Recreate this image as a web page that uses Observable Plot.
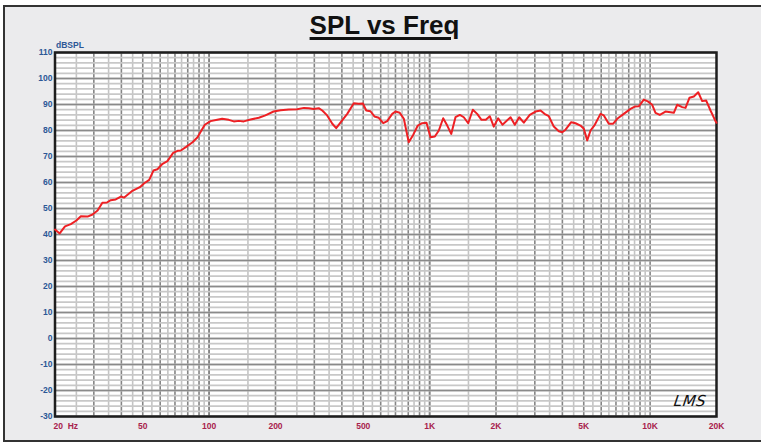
<!DOCTYPE html>
<html>
<head>
<meta charset="utf-8">
<script src="https://cdn.jsdelivr.net/npm/d3@7"></script>
<script src="https://cdn.jsdelivr.net/npm/@observablehq/plot@0.6"></script>
<style>
  html, body { margin: 0; padding: 0; background: #ffffff; overflow: hidden; }
  #wrap { position: relative; width: 761px; height: 443px; font-family: "Liberation Sans", Arial, sans-serif; }
  #frame { position: absolute; left: 3px; top: 5px; width: 770px; height: 433px; border: 2px solid #333; background: #ebebed; }
  #title { position: absolute; left: 0; width: 769px; top: 10px; text-align: center; font-size: 26px; font-weight: bold; color: #111;
           text-decoration: underline; text-decoration-thickness: 3px; text-underline-offset: 3px; line-height: 30px; }
  #chart { position: absolute; left: 0; top: 0; }
  #logo { position: absolute; left: 674px; top: 392px; font-family: "DejaVu Sans", sans-serif; font-style: italic; font-weight: 300;
          font-size: 15px; letter-spacing: 0.5px; color: #111; transform: skewX(-8deg); }
</style>
</head>
<body>
<div id="wrap">
  <div id="frame"></div>
  <div id="title">SPL vs Freq</div>
  <div id="chart"></div>
  <div id="logo">LMS</div>
</div>
<script>
// ---- data ----
const freqHz = [20, 21, 22.2, 23.6, 25, 26.2, 28.1, 29.6, 31.2, 32.8, 34.4, 35.8, 37.7, 39.8, 41.2, 44.9, 48.5, 50.8, 53.5, 55.9,
  58.3, 61.5, 64.7, 68.7, 71.9, 74.4, 78.4, 84.1, 88.6, 91.7, 95.6, 101.5, 108.8, 114.6, 122.8, 129.4, 136.3, 143.6, 154, 168,
  180, 196, 211, 230, 251, 269, 283, 298, 314, 326, 343, 362, 377, 394, 423, 453, 477, 498, 516, 539,
  562, 588, 616, 642, 677, 700, 732, 764, 804, 842, 884, 925, 968, 1009, 1056, 1101, 1152, 1202, 1253, 1310,
  1371, 1429, 1496, 1570, 1643, 1719, 1798, 1874, 1954, 2046, 2140, 2328, 2434, 2548, 2674, 2846, 3022, 3184, 3319, 3471,
  3658, 3854, 3994, 4134, 4386, 4588, 4834, 5004, 5185, 5366, 5612, 5956, 6166, 6496, 6802, 7092, 7596, 8148, 8522, 8886,
  9362, 9762, 10218, 10576, 11062, 11740, 12370, 12804, 13268, 13980, 14472, 15090, 15784, 16522, 17226, 17962, 18788, 19794, 20000];
const splDb = [41.9, 40.4, 43.1, 44.0, 45.4, 47.0, 46.9, 47.7, 49.2, 52.2, 52.3, 53.2, 53.5, 54.6, 54.2, 56.8, 58.2, 59.7, 61.0, 64.6,
  65.1, 67.2, 68.2, 71.4, 72.2, 72.3, 73.6, 75.5, 77.4, 79.6, 82.2, 83.6, 84.1, 84.5, 84.1, 83.5, 83.7, 83.5, 84.2, 84.9,
  85.8, 87.3, 87.8, 88.1, 88.2, 88.7, 88.6, 88.3, 88.6, 87.7, 85.8, 82.6, 80.9, 83.0, 86.4, 90.5, 90.3, 90.4, 87.7, 87.4,
  85.4, 84.9, 82.8, 83.6, 86.4, 87.3, 86.8, 84.5, 75.5, 78.3, 81.9, 82.8, 83.0, 77.4, 77.7, 80.0, 84.7, 81.9, 78.7, 85.1,
  86.0, 85.1, 82.8, 88.0, 86.4, 84.1, 84.1, 85.5, 81.5, 84.7, 82.2, 85.1, 82.2, 85.1, 83.0, 86.0, 87.3, 87.7, 86.4, 85.5,
  81.5, 79.7, 79.3, 80.3, 83.2, 82.8, 81.9, 80.7, 76.2, 80.0, 82.2, 86.4, 85.8, 82.6, 82.6, 84.5, 86.4, 88.3, 89.2, 89.3,
  91.9, 91.2, 89.9, 86.8, 86.0, 87.3, 87.0, 86.8, 89.9, 89.0, 88.7, 92.6, 93.1, 94.7, 91.3, 91.5, 87.7, 83.6, 83.0];
const yTicks = [-30, -20, -10, 0, 10, 20, 30, 40, 50, 60, 70, 80, 90, 100, 110];
const xTickValues = [50, 100, 200, 500, 1000, 2000, 5000, 10000, 20000];
const xTickLabels = ["50", "100", "200", "500", "1K", "2K", "5K", "10K", "20K"];
const xFirstLabel = "20\u00a0\u00a0Hz";

// ---- grid positions ----
const gridMajorX = [];
const gridMinorX = [];
for (const dec of [10, 100, 1000]) {
  for (let m = 1; m <= 10; m++) {
    const v = m * dec;
    if (v >= 20 && v <= 20000) gridMajorX.push(v);
    const h = (m + 0.5) * dec;
    if (m < 10 && h > 20 && h < 20000) gridMinorX.push(h);
  }
}
const gridMinorY = d3.range(-30, 110.01, 2);

const data = freqHz.map((f, i) => ({f, spl: splDb[i]}));

const blue = "#2c5796";
const crimson = "#a8224c";

const chart = Plot.plot({
  width: 761,
  height: 443,
  marginLeft: 54.5,
  marginRight: 45,
  marginTop: 52,
  marginBottom: 27,
  style: {background: "transparent", fontFamily: "'Liberation Sans', Arial, sans-serif"},
  x: {type: "log", domain: [20, 20000], axis: null},
  y: {domain: [-30, 110], axis: null},
  marks: [
    Plot.frame({fill: "#ffffff", stroke: "none"}),
    Plot.ruleX(gridMinorX, {stroke: "#c4c4c4", strokeWidth: 1.6}),
    Plot.ruleX(gridMajorX, {stroke: "#858585", strokeWidth: 1.6}),
    Plot.ruleY(gridMinorY, {stroke: "#c8c8c8", strokeWidth: 1.8}),
    Plot.ruleY(yTicks, {stroke: "#8a8a8a", strokeWidth: 1.6}),
    Plot.frame({stroke: "#1e1e1e", strokeWidth: 2.5}),
    Plot.lineY(data, {x: "f", y: "spl", stroke: "#ee2024", strokeWidth: 2, curve: "linear"}),
    Plot.axisY({ticks: yTicks, tickSize: 0, tickPadding: 2.5, tickFormat: d => String(d), fill: blue,
      fontWeight: "bold", fontSize: 8.5, label: null}),
    Plot.text(["dBSPL"], {text: d => d, frameAnchor: "top-left", textAnchor: "start", lineAnchor: "middle", dx: 1, dy: -7,
      fill: blue, fontWeight: "bold", fontSize: 8.5}),
    Plot.text(xTickValues, {x: d => d, text: (d, i) => xTickLabels[i], frameAnchor: "bottom", lineAnchor: "middle", dy: 10,
      fill: crimson, fontWeight: "bold", fontSize: 8.5}),
    Plot.text([20], {x: d => d, text: () => xFirstLabel, frameAnchor: "bottom", textAnchor: "start", lineAnchor: "middle",
      dx: -1.5, dy: 10, fill: crimson, fontWeight: "bold", fontSize: 8.5})
  ]
});
document.getElementById("chart").appendChild(chart);
</script>
</body>
</html>
